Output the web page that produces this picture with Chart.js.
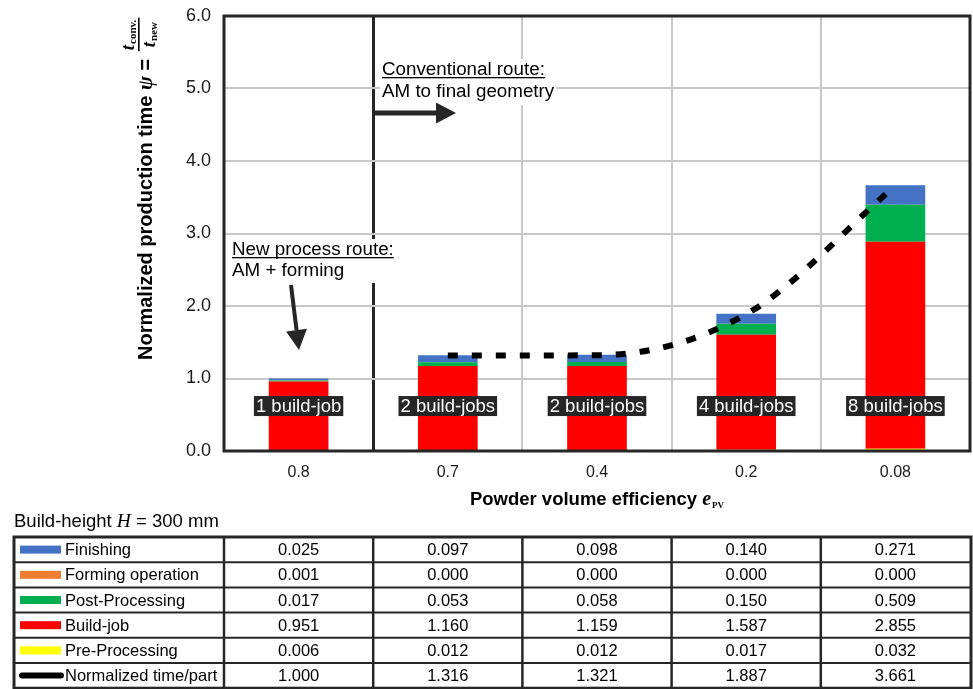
<!DOCTYPE html>
<html>
<head>
<meta charset="utf-8">
<script src="https://cdn.jsdelivr.net/npm/chart.js@4.4.1/dist/chart.umd.min.js"></script>
<style>
  html, body { margin: 0; padding: 0; background: #fff; }
  #wrap { width: 973px; height: 689px; }
</style>
</head>
<body>
<div id="wrap"><canvas id="myChart" width="973" height="689"></canvas></div>
<script>
// data
const categories = ['0.8', '0.7', '0.4', '0.2', '0.08'];
const buildJobLabels = ['1 build-job', '2 build-jobs', '2 build-jobs', '4 build-jobs', '8 build-jobs'];
const preProcessing = [0.006, 0.012, 0.012, 0.017, 0.032];
const buildJob = [0.951, 1.160, 1.159, 1.587, 2.855];
const postProcessing = [0.017, 0.053, 0.058, 0.150, 0.509];
const formingOperation = [0.001, 0.000, 0.000, 0.000, 0.000];
const finishing = [0.025, 0.097, 0.098, 0.140, 0.271];
const normalizedTime = [1.000, 1.316, 1.321, 1.887, 3.661];
const yTicks = [0, 1, 2, 3, 4, 5, 6];

const SANS = '"Liberation Sans", Arial, sans-serif';
const SERIF = '"Liberation Serif", "Times New Roman", serif';
const DARK = '#262626';

// the dashed line only covers the conventional route (first point skipped)
const lineData = normalizedTime.map((v, i) => (i === 0 ? null : v));

const tableRows = [
  { label: 'Finishing', color: '#4472C4', values: finishing },
  { label: 'Forming operation', color: '#ED7D31', values: formingOperation },
  { label: 'Post-Processing', color: '#00B050', values: postProcessing },
  { label: 'Build-job', color: '#FF0000', values: buildJob },
  { label: 'Pre-Processing', color: '#FFFF00', values: preProcessing },
  { label: 'Normalized time/part', line: true, values: normalizedTime }
];

function arrow(ctx, x1, y1, x2, y2, width, headLen, headW) {
  const ang = Math.atan2(y2 - y1, x2 - x1);
  const bx = x2 - headLen * Math.cos(ang);
  const by = y2 - headLen * Math.sin(ang);
  ctx.save();
  ctx.strokeStyle = DARK;
  ctx.fillStyle = DARK;
  ctx.lineWidth = width;
  ctx.beginPath();
  ctx.moveTo(x1, y1);
  ctx.lineTo(bx, by);
  ctx.stroke();
  ctx.beginPath();
  ctx.moveTo(x2, y2);
  ctx.lineTo(bx + headW / 2 * Math.sin(ang), by - headW / 2 * Math.cos(ang));
  ctx.lineTo(bx - headW / 2 * Math.sin(ang), by + headW / 2 * Math.cos(ang));
  ctx.closePath();
  ctx.fill();
  ctx.restore();
}

function noteText(ctx, lines, x, y, gap) {
  ctx.save();
  ctx.font = '18.8px ' + SANS;
  ctx.textAlign = 'left';
  ctx.textBaseline = 'alphabetic';
  let w = 0;
  lines.forEach(l => { w = Math.max(w, ctx.measureText(l).width); });
  ctx.fillStyle = '#fff';
  ctx.fillRect(x - 2, y - 16, w + 4, lines.length * gap + 2);
  ctx.fillStyle = '#000';
  lines.forEach((l, i) => ctx.fillText(l, x, y + i * gap));
  // first line underlined
  const uw = ctx.measureText(lines[0]).width;
  ctx.fillRect(x, y + 2, uw, 1.3);
  ctx.restore();
}

const decorPlugin = {
  id: 'decor',
  afterDatasetsDraw(chart) {
    const ctx = chart.ctx;
    const area = chart.chartArea;
    const xs = chart.scales.x;
    const ys = chart.scales.y;

    // build-job labels on the bars
    ctx.save();
    ctx.font = '18.5px ' + SANS;
    ctx.textAlign = 'center';
    ctx.textBaseline = 'middle';
    buildJobLabels.forEach((t, i) => {
      const cx = xs.getPixelForValue(i);
      const cy = ys.getPixelForValue(0.62);
      const w = ctx.measureText(t).width + 4;
      ctx.fillStyle = DARK;
      ctx.fillRect(cx - w / 2, cy - 10, w, 20);
      ctx.fillStyle = '#fff';
      ctx.fillText(t, cx, cy + 1);
    });
    ctx.restore();

    // annotations
    noteText(ctx, ['Conventional route:', 'AM to final geometry'], 382, 75, 22);
    arrow(ctx, 373, 113, 456, 113, 5, 20, 21);
    noteText(ctx, ['New process route:', 'AM + forming'], 232, 255, 21);
    arrow(ctx, 291, 285, 299, 350, 4, 20, 21);

    // plot frame
    ctx.save();
    ctx.strokeStyle = DARK;
    ctx.lineWidth = 3;
    ctx.strokeRect(area.left, area.top, area.right - area.left, area.bottom - area.top);
    ctx.restore();
  },
  afterDraw(chart) {
    const ctx = chart.ctx;
    const area = chart.chartArea;
    const xs = chart.scales.x;
    const catW = (area.right - area.left) / categories.length;

    // y axis title with fraction
    ctx.save();
    ctx.translate(152, 360);
    ctx.rotate(-Math.PI / 2);
    ctx.fillStyle = '#000';
    ctx.textAlign = 'left';
    ctx.textBaseline = 'alphabetic';
    let x = 0;
    ctx.font = 'bold 20px ' + SANS;
    const s1 = 'Normalized production time ';
    ctx.fillText(s1, x, 0); x += ctx.measureText(s1).width;
    ctx.font = 'bold italic 21px ' + SERIF;
    ctx.fillText('\u03C8', x, 0); x += ctx.measureText('\u03C8').width;
    ctx.font = 'bold 20px ' + SANS;
    ctx.fillText(' = ', x, 0); x += ctx.measureText(' = ').width + 2;
    const fx = x;
    ctx.font = 'bold italic 19px ' + SERIF;
    ctx.fillText('t', fx + 1, -18);
    const tw = ctx.measureText('t').width;
    ctx.font = 'bold 11px ' + SERIF;
    ctx.fillText('conv.', fx + 2 + tw, -16);
    const numW = tw + ctx.measureText('conv.').width + 4;
    ctx.font = 'bold italic 19px ' + SERIF;
    ctx.fillText('t', fx + 4, 3);
    ctx.font = 'bold 11px ' + SERIF;
    ctx.fillText('new', fx + 5 + tw, 5);
    ctx.fillRect(fx, -14, numW, 1.6);
    ctx.restore();

    // x axis title
    ctx.save();
    ctx.fillStyle = '#000';
    ctx.textAlign = 'left';
    ctx.textBaseline = 'alphabetic';
    const t1 = 'Powder volume efficiency ';
    ctx.font = 'bold 18.5px ' + SANS;
    const w1 = ctx.measureText(t1).width;
    ctx.font = 'bold italic 20px ' + SERIF;
    const w2 = ctx.measureText('e').width;
    ctx.font = 'bold 9px ' + SERIF;
    const w3 = ctx.measureText('PV').width;
    let tx = (area.left + area.right) / 2 - (w1 + w2 + w3 + 1) / 2;
    ctx.font = 'bold 18.5px ' + SANS;
    ctx.fillText(t1, tx, 505); tx += w1;
    ctx.font = 'bold italic 20px ' + SERIF;
    ctx.fillText('e', tx, 505); tx += w2 + 1;
    ctx.font = 'bold 9px ' + SERIF;
    ctx.fillText('PV', tx, 508);
    ctx.restore();

    // build height caption
    ctx.save();
    ctx.fillStyle = '#000';
    ctx.textBaseline = 'alphabetic';
    let bx = 14;
    ctx.font = '18.5px ' + SANS;
    ctx.fillText('Build-height ', bx, 527); bx += ctx.measureText('Build-height ').width;
    ctx.font = 'italic 19.5px ' + SERIF;
    ctx.fillText('H', bx, 527); bx += ctx.measureText('H').width;
    ctx.font = '18.5px ' + SANS;
    ctx.fillText(' = 300 mm', bx, 527);
    ctx.restore();

    // data table
    const top = 537, rowH = 25.2, left = 14, right = area.right + 1;
    const bottom = top + rowH * tableRows.length;
    ctx.save();
    ctx.strokeStyle = DARK;
    ctx.lineWidth = 2;
    for (let r = 1; r < tableRows.length; r++) {
      ctx.beginPath();
      ctx.moveTo(left, top + r * rowH);
      ctx.lineTo(right, top + r * rowH);
      ctx.stroke();
    }
    ctx.lineWidth = 2.5;
    for (let c = 0; c < categories.length; c++) {
      const cx = area.left + c * catW;
      ctx.beginPath();
      ctx.moveTo(cx, top);
      ctx.lineTo(cx, bottom);
      ctx.stroke();
    }
    ctx.lineWidth = 3;
    ctx.strokeRect(left, top, right - left, bottom - top);

    ctx.textBaseline = 'middle';
    tableRows.forEach((row, r) => {
      const cy = top + r * rowH + rowH / 2;
      if (row.line) {
        ctx.strokeStyle = '#000';
        ctx.lineWidth = 6;
        ctx.lineCap = 'round';
        ctx.beginPath();
        ctx.moveTo(22, cy);
        ctx.lineTo(61, cy);
        ctx.stroke();
      } else {
        ctx.fillStyle = row.color;
        ctx.fillRect(20, cy - 4, 41, 8);
      }
      ctx.fillStyle = '#000';
      ctx.font = '16.5px ' + SANS;
      ctx.textAlign = 'left';
      ctx.fillText(row.label, 65, cy + 1);
      ctx.textAlign = 'center';
      row.values.forEach((v, i) => {
        ctx.fillText(v.toFixed(3), xs.getPixelForValue(i), cy + 1);
      });
    });
    ctx.restore();
  }
};

const ctx = document.getElementById('myChart').getContext('2d');
new Chart(ctx, {
  type: 'bar',
  data: {
    labels: categories,
    datasets: [
      { label: 'Normalized time/part', type: 'line', data: lineData, stack: 'total',
        borderColor: '#000', borderWidth: 6, borderDash: [10, 14], borderCapStyle: 'butt',
        pointRadius: 0, cubicInterpolationMode: 'monotone', fill: false, order: 0 },
      { label: 'Pre-Processing', data: preProcessing, backgroundColor: '#FFFF00', order: 1 },
      { label: 'Build-job', data: buildJob, backgroundColor: '#FF0000', order: 1 },
      { label: 'Post-Processing', data: postProcessing, backgroundColor: '#00B050', order: 1 },
      { label: 'Forming operation', data: formingOperation, backgroundColor: '#ED7D31', order: 1 },
      { label: 'Finishing', data: finishing, backgroundColor: '#4472C4', order: 1 }
    ]
  },
  options: {
    responsive: false,
    animation: false,
    devicePixelRatio: 1,
    layout: { padding: { left: 0, right: 3, top: 16, bottom: 0 } },
    datasets: { bar: { barPercentage: 0.4, categoryPercentage: 1.0, borderWidth: 0 } },
    plugins: { legend: { display: false }, tooltip: { enabled: false } },
    scales: {
      x: {
        stacked: true,
        afterFit: s => { s.height = 238; },
        grid: {
          offset: true,
          drawTicks: false,
          color: c => (c.index === 1 ? DARK : '#c8c8c8'),
          lineWidth: c => (c.index === 1 ? 3 : 2)
        },
        border: { display: false },
        ticks: { color: '#1a1a1a', font: { family: SANS, size: 16 }, padding: 12 }
      },
      y: {
        stacked: true,
        min: yTicks[0],
        max: yTicks[yTicks.length - 1],
        afterFit: s => { s.width = 224; s.paddingTop = 0; s.paddingBottom = 0; },
        afterBuildTicks: s => { s.ticks = yTicks.map(v => ({ value: v })); },
        grid: { drawTicks: false, color: '#c8c8c8', lineWidth: 2 },
        border: { display: false },
        ticks: { color: '#1a1a1a', font: { family: SANS, size: 18 }, padding: 13,
          callback: v => Number(v).toFixed(1) }
      }
    }
  },
  plugins: [decorPlugin]
});
</script>
</body>
</html>
